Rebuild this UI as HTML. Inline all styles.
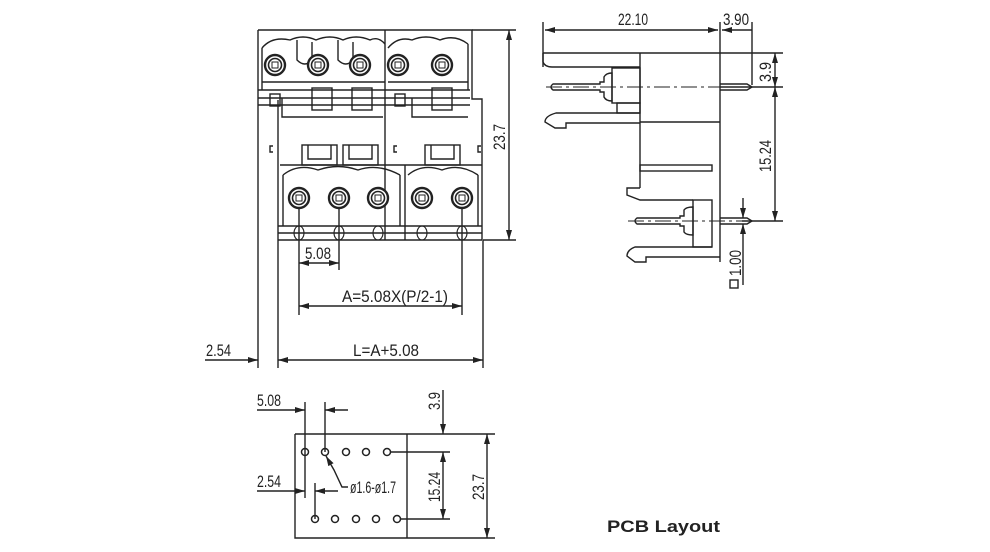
<!DOCTYPE html>
<html><head><meta charset="utf-8"><style>
html,body{margin:0;padding:0;background:#fff;}
svg{display:block}
text{font-family:"Liberation Sans",sans-serif;fill:#222;font-size:17px}
</style></head><body>
<svg width="990" height="552" viewBox="0 0 990 552" xmlns="http://www.w3.org/2000/svg">
<defs>
<marker id="a" viewBox="0 0 10 6" refX="10" refY="3" markerWidth="10" markerHeight="6" orient="auto-start-reverse" markerUnits="userSpaceOnUse"><path d="M0,0L10,3L0,6z" fill="#222"/></marker>
<g id="pin"><circle r="10" fill="#fff" stroke="#222" stroke-width="2.4"/><circle r="6.5" fill="#fff" stroke="#222" stroke-width="1.6"/><rect x="-3" y="-3" width="6" height="6" fill="none" stroke="#222" stroke-width="1"/></g>
</defs>
<g stroke="#222" stroke-width="1.4" fill="none">
<!-- FRONT VIEW -->
<line x1="258" y1="30" x2="258" y2="368"/>
<line x1="278" y1="100" x2="278" y2="368"/>
<path d="M258 30 H472 V99 H482 V240"/>
<line x1="385" y1="30" x2="385" y2="240"/>
<path d="M262 48 Q272 36 290 40 Q303 34 316 40 Q330 34 343 40 Q356 34 370 40 Q378 36 385 44 M388 48 Q398 36 412 40 Q426 34 440 40 Q455 34 468 44"/>
<path d="M262 48 V90 M468 44 V90 M297 40 V60 Q305 68 312 60 V42 M338 40 V60 Q346 68 353 60 V42"/>
<line x1="262" y1="82" x2="385" y2="82"/><line x1="388" y1="82" x2="468" y2="82"/>
<path d="M258 90 H470 M258 98 H470 M258 105 H470"/>
<path d="M282 98 V117 H383 M412 98 V117 H468"/>
<rect x="312" y="88" width="20" height="22"/><rect x="352" y="88" width="20" height="22"/><rect x="432" y="88" width="20" height="22"/>
<rect x="270" y="94" width="10" height="12"/><rect x="395" y="94" width="10" height="12"/>
<path d="M273 146 h-3 v6 h3 M397 146 h-3 v6 h3 M481 146 h-3 v6 h3"/>
<rect x="302" y="145" width="35" height="20"/><rect x="343" y="145" width="35" height="20"/><rect x="425" y="145" width="35" height="20"/>
<path d="M308 145 v14 h23 v-14 M349 145 v14 h23 v-14 M431 145 v14 h23 v-14"/>
<path d="M280 165 H482 M405 165 V240"/>
<path d="M283 175 Q298 163 318 170 Q338 163 358 170 Q378 163 400 175 M408 175 Q422 163 442 170 Q460 163 478 175"/>
<path d="M283 175 V226 M478 175 V226 M400 175 V226"/>
<path d="M278 226 H482 M278 233 H482 M278 240 H482"/>
<g stroke-width="1.1"><ellipse cx="299" cy="233" rx="5" ry="7"/><ellipse cx="339" cy="233" rx="5" ry="7"/><ellipse cx="378" cy="233" rx="5" ry="7"/><ellipse cx="422" cy="233" rx="5" ry="7"/><ellipse cx="462" cy="233" rx="5" ry="7"/></g>
<line x1="472" y1="30" x2="516" y2="30"/><line x1="483" y1="240" x2="516" y2="240"/>
<line x1="509" y1="30" x2="509" y2="240" marker-start="url(#a)" marker-end="url(#a)"/>
<line x1="299" y1="205" x2="299" y2="315"/><line x1="339" y1="205" x2="339" y2="270"/><line x1="462" y1="205" x2="462" y2="315"/>
<line x1="299" y1="263" x2="339" y2="263" marker-start="url(#a)" marker-end="url(#a)"/>
<line x1="299" y1="306" x2="462" y2="306" marker-start="url(#a)" marker-end="url(#a)"/>
<line x1="483" y1="240" x2="483" y2="368"/>
<line x1="278" y1="360" x2="483" y2="360" marker-start="url(#a)" marker-end="url(#a)"/>
<line x1="205" y1="360" x2="258" y2="360" marker-end="url(#a)"/>
<!-- SIDE VIEW -->
<line x1="543" y1="53" x2="783" y2="53"/>
<line x1="543" y1="22" x2="543" y2="67"/>
<path d="M543 53 V62 Q545 67 552 67 H640"/>
<line x1="640" y1="53" x2="640" y2="188"/>
<line x1="720" y1="22" x2="720" y2="262"/>
<line x1="752" y1="22" x2="752" y2="85"/>
<line x1="545" y1="30" x2="718" y2="30" marker-start="url(#a)" marker-end="url(#a)"/>
<line x1="722" y1="30" x2="752" y2="30" marker-start="url(#a)"/>
<rect x="612" y="68" width="28" height="35"/>
<rect x="617" y="103" width="23" height="10"/>
<path d="M553 84 H600 V82 H604 V77 Q606 73 612 73 V101 Q606 101 604 97 V92 H600 V90 H553 Q549 87 553 84 Z"/>
<path d="M720 84 H747 L752 87 L747 90 H720"/>
<path d="M640 113 H556 Q545 116 545 122 L555 128 H566 V123 H640"/>
<line x1="640" y1="122" x2="720" y2="122"/>
<rect x="640" y="165" width="72" height="6"/>
<path d="M640 188 H627 V195 L640 200 V200 H693"/>
<rect x="693" y="200" width="19" height="47"/>
<path d="M637 218 H680 V216 H684 V210 Q686 207 693 207 V235 Q686 235 684 232 V226 H680 V224 H637 Q633 221 637 218 Z"/>
<path d="M720 218 H747 L752 221 L747 224 H720"/>
<path d="M712 247 H635 Q627 250 627 256 L635 262 H646 V257 H720"/>
<g stroke-width="1" stroke-dasharray="16 4 3 4"><line x1="546" y1="87" x2="762" y2="87"/><line x1="628" y1="221" x2="762" y2="221"/></g>
<line x1="720" y1="87" x2="783" y2="87"/><line x1="742" y1="221" x2="783" y2="221"/>
<line x1="775" y1="53" x2="775" y2="87" marker-start="url(#a)" marker-end="url(#a)"/>
<line x1="775" y1="87" x2="775" y2="221" marker-start="url(#a)" marker-end="url(#a)"/>
<line x1="743" y1="198" x2="743" y2="218" marker-end="url(#a)"/><line x1="743" y1="245" x2="743" y2="224" marker-end="url(#a)"/>
<line x1="743" y1="245" x2="743" y2="285"/>
<rect x="730" y="280" width="8" height="8"/>
<!-- PCB -->
<path d="M295 434 H495 M295 434 V538 H495 M407 434 V538"/>
<line x1="391" y1="452" x2="450" y2="452"/><line x1="401" y1="519" x2="450" y2="519"/>
<line x1="443" y1="390" x2="443" y2="434" marker-end="url(#a)"/>
<line x1="443" y1="452" x2="443" y2="519" marker-start="url(#a)" marker-end="url(#a)"/>
<line x1="487" y1="434" x2="487" y2="538" marker-start="url(#a)" marker-end="url(#a)"/>
<line x1="305" y1="402" x2="305" y2="498"/><line x1="325" y1="402" x2="325" y2="452"/>
<line x1="257" y1="410" x2="305" y2="410" marker-end="url(#a)"/><line x1="348" y1="410" x2="325" y2="410" marker-end="url(#a)"/>
<line x1="315" y1="483" x2="315" y2="519"/>
<line x1="257" y1="491" x2="305" y2="491" marker-end="url(#a)"/><line x1="338" y1="491" x2="315" y2="491" marker-end="url(#a)"/>
<path d="M326 456 L334 470 L342 487 H348" marker-start="url(#a)"/>
<g stroke-width="1.5"><circle cx="305" cy="452" r="3.5"/><circle cx="325" cy="452" r="3.5"/><circle cx="346" cy="452" r="3.5"/><circle cx="366" cy="452" r="3.5"/><circle cx="387" cy="452" r="3.5"/>
<circle cx="315" cy="519" r="3.5"/><circle cx="335" cy="519" r="3.5"/><circle cx="356" cy="519" r="3.5"/><circle cx="376" cy="519" r="3.5"/><circle cx="397" cy="519" r="3.5"/></g>
</g>
<use href="#pin" x="275" y="65"/><use href="#pin" x="318" y="65"/><use href="#pin" x="360" y="65"/><use href="#pin" x="398" y="65"/><use href="#pin" x="442" y="65"/>
<use href="#pin" x="299" y="198"/><use href="#pin" x="339" y="198"/><use href="#pin" x="378" y="198"/><use href="#pin" x="422" y="198"/><use href="#pin" x="462" y="198"/>
<text x="305" y="259" textLength="26" lengthAdjust="spacingAndGlyphs">5.08</text>
<text x="342" y="302" textLength="106" lengthAdjust="spacingAndGlyphs">A=5.08X(P/2-1)</text>
<text x="353" y="356" textLength="66" lengthAdjust="spacingAndGlyphs">L=A+5.08</text>
<text x="206" y="356" textLength="25" lengthAdjust="spacingAndGlyphs">2.54</text>
<text transform="translate(505,150) rotate(-90)" textLength="26" lengthAdjust="spacingAndGlyphs">23.7</text>
<text x="618" y="25" textLength="30" lengthAdjust="spacingAndGlyphs">22.10</text>
<text x="723" y="25" textLength="26" lengthAdjust="spacingAndGlyphs">3.90</text>
<text transform="translate(771,82) rotate(-90)" textLength="20" lengthAdjust="spacingAndGlyphs">3.9</text>
<text transform="translate(771,172) rotate(-90)" textLength="32" lengthAdjust="spacingAndGlyphs">15.24</text>
<text transform="translate(741,276) rotate(-90)" textLength="26" lengthAdjust="spacingAndGlyphs">1.00</text>
<text x="257" y="406" textLength="24" lengthAdjust="spacingAndGlyphs">5.08</text>
<text x="257" y="487" textLength="24" lengthAdjust="spacingAndGlyphs">2.54</text>
<text x="350" y="493" textLength="46" lengthAdjust="spacingAndGlyphs" font-size="15">ø1.6-ø1.7</text>
<text transform="translate(440,410) rotate(-90)" textLength="18" lengthAdjust="spacingAndGlyphs">3.9</text>
<text transform="translate(440,502) rotate(-90)" textLength="30" lengthAdjust="spacingAndGlyphs">15.24</text>
<text transform="translate(484,500) rotate(-90)" textLength="26" lengthAdjust="spacingAndGlyphs">23.7</text>
<text x="607" y="532" font-size="20" font-weight="bold" textLength="113" lengthAdjust="spacingAndGlyphs">PCB Layout</text>
</svg>
</body></html>
